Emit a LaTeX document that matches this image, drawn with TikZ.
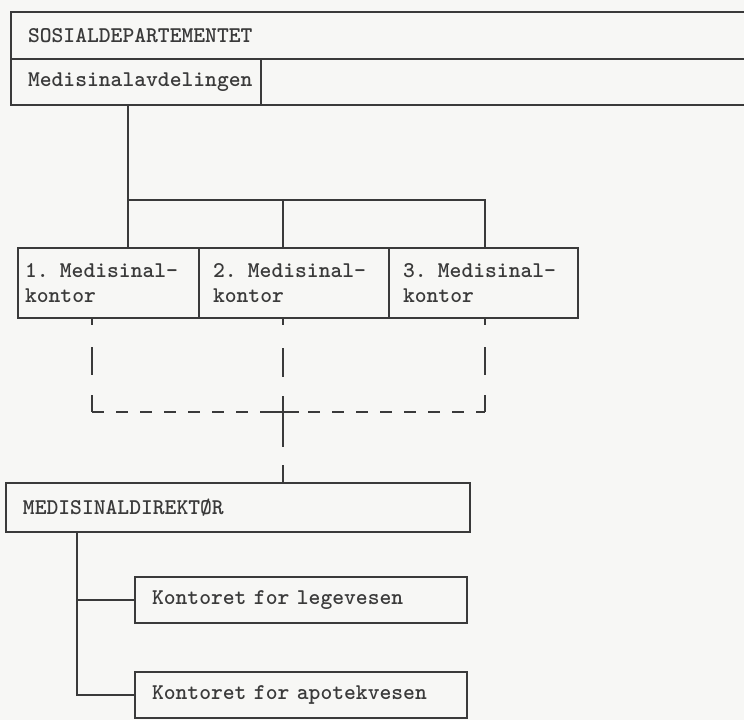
\documentclass[tikz,border=0pt]{standalone}
\usepackage{fontspec}
\definecolor{ink}{RGB}{58,58,58}
\definecolor{paper}{RGB}{247,247,245}
\tikzset{
  boks/.style={draw=ink, line width=1.4pt, text=ink, anchor=north west, align=left,
    outer sep=0pt, inner xsep=17pt, inner ysep=0pt,
    font=\ttfamily\bfseries\fontsize{22.5}{25}\selectfont},
  linje/.style={draw=ink, line width=1.4pt},
  stiplet/.style={linje, dash pattern=on 12pt off 12pt}
}
\begin{document}
\begin{tikzpicture}[x=1pt,y=-1pt]
	\useasboundingbox (0,0) rectangle (744,720);
	\fill[paper] (0,0) rectangle (744,720);
	\clip (0,0) rectangle (744,720);
	% departementet
	\node[boks, text width=726pt, minimum height=47pt] (dep) at (11,12) {SOSIALDEPARTEMENTET};
	\node[boks, text width=216pt, minimum height=46pt] (avd) at (11,59) {Medisinalavdelingen};
	\draw[linje] (avd.south east) -- (dep.east |- avd.south);
	% kontorene
	\node[boks, inner xsep=7pt, text width=167pt, minimum height=70pt] (k1) at (18,248) {1. Medisinal-\\kontor};
	\node[boks, inner xsep=14pt, text width=162pt, minimum height=70pt] (k2) at (k1.north east) {2. Medisinal-\\kontor};
	\node[boks, inner xsep=14pt, text width=161pt, minimum height=70pt] (k3) at (k2.north east) {3. Medisinal-\\kontor};
	\coordinate (f1) at (128,200);
	\coordinate (f2) at (283,200);
	\coordinate (f3) at (485,200);
	\draw[linje] (avd.south -| f1) -- (k1.north -| f1);
	\draw[linje] (f1) -- (f3) -- (k3.north -| f3);
	\draw[linje] (f2) -- (k2.north -| f2);
	% direktoren
	\node[boks, text width=430pt, minimum height=49pt] (dir) at (6,483) {MEDISINALDIREKTØR};
	\node[boks, text width=298pt, minimum height=46pt] (lege) at (135,577) {Kontoret for legevesen};
	\node[boks, text width=298pt, minimum height=46pt] (apotek) at (135,672) {Kontoret for apotekvesen};
	% stiplet samband
	\coordinate (d1) at (92,412);
	\coordinate (d2) at (283,412);
	\coordinate (d3) at (485,412);
	\draw[linje, dash pattern=on 7pt off 22pt on 28pt off 20pt on 30pt] (k1.south -| d1) -- (d1);
	\draw[linje, dash pattern=on 7pt off 22pt on 28pt off 20pt on 30pt] (k3.south -| d3) -- (d3);
	\draw[stiplet] (d1) -- (d3);
	\draw[linje, dash pattern=on 7pt off 23pt on 29pt off 19pt on 51pt off 18pt on 20pt] (k2.south -| d2) -- (dir.north -| d2);
	\draw[linje] ([xshift=-19pt]d2) -- ([xshift=16pt]d2);
	% legevesen og apotekvesen
	\coordinate (s) at (77,532);
	\draw[linje] (dir.south -| s) -- (s |- apotek.west) -- (apotek.west);
	\draw[linje] (s |- lege.west) -- (lege.west);
\end{tikzpicture}
\end{document}
